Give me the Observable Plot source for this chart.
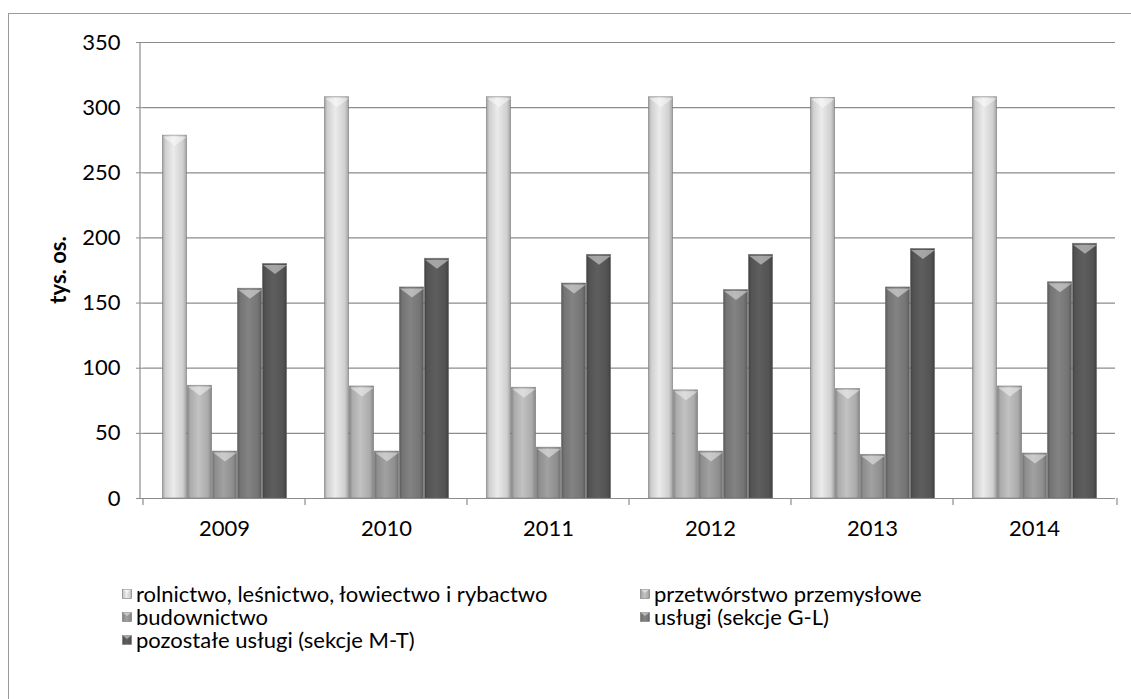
<!DOCTYPE html>
<html>
<head>
<meta charset="utf-8">
<script src="https://cdn.jsdelivr.net/npm/d3@7"></script>
<script src="https://cdn.jsdelivr.net/npm/@observablehq/plot@0.6"></script>
<style>
  html, body { margin: 0; padding: 0; background: #fff; }
  #wrap { position: relative; width: 1131px; height: 699px; overflow: hidden; font-family: Lato, "Noto Sans", sans-serif; }
  #border { position: absolute; left: 8px; top: 13px; width: 1140px; height: 700px; border: 1px solid #9a9a9a; box-sizing: border-box; }
  #chart { position: absolute; left: 0; top: 0; }
  #ylabel { position: absolute; left: 58px; top: 270px; transform: translate(-50%, -50%) rotate(-90deg); font-weight: bold; font-size: 22px; line-height: 22px; white-space: nowrap; color: #000; }
  #legend { position: absolute; left: 122px; top: 582px; display: grid; grid-template-columns: 518px auto; grid-auto-rows: 23px; font-size: 22px; line-height: 23px; color: #000; }
  #legend .item { display: flex; align-items: center; white-space: nowrap; }
  #legend svg { margin-right: 4px; }
</style>
</head>
<body>
<div id="wrap">
  <div id="border"></div>
  <div id="chart"></div>
  <div id="ylabel">tys. os.</div>
  <div id="legend"></div>
</div>
<script>
// Pracujący według sekcji gospodarki, 2009–2014 (tys. osób)
const years = ["2009", "2010", "2011", "2012", "2013", "2014"];
const series = [
  "rolnictwo, leśnictwo, łowiectwo i rybactwo",
  "przetwórstwo przemysłowe",
  "budownictwo",
  "usługi (sekcje G-L)",
  "pozostałe usługi (sekcje M-T)"
];
const rolnictwo    = [278.5, 308, 308, 308, 307.5, 308];
const przetworstwo = [86.5, 86, 85, 83, 84, 86];
const budownictwo  = [36, 36, 39, 36, 33.5, 34.5];
const uslugiGL     = [161, 162, 165, 160, 162, 166];
const uslugiMT     = [180, 184, 187, 187, 191.5, 195.5];
const yTicks = [0, 50, 100, 150, 200, 250, 300, 350];

const seriesValues = [rolnictwo, przetworstwo, budownictwo, uslugiGL, uslugiMT];
const data = years.flatMap((year, i) =>
  series.map((s, j) => ({year, series: s, value: seriesValues[j][i]}))
);

// Grey shades of the five series, rendered as bevelled gradients
const baseColors = ["#cfcfcf", "#ababab", "#8e8e8e", "#747474", "#535353"];
const gradIds = baseColors.map((_, i) => `bevel${i}`);

const defsSvg = d3.select("body").append("svg")
  .attr("width", 0).attr("height", 0)
  .style("position", "absolute");
const defs = defsSvg.append("defs");
baseColors.forEach((c, i) => {
  const base = d3.color(c);
  const g = defs.append("linearGradient").attr("id", gradIds[i])
    .attr("x1", "0").attr("x2", "1").attr("y1", "0").attr("y2", "0");
  const stops = [
    [0, base.darker(0.7)],
    [0.12, base],
    [0.45, base.brighter(0.35)],
    [0.85, base],
    [1, base.darker(0.7)]
  ];
  stops.forEach(([o, col]) => g.append("stop").attr("offset", o).attr("stop-color", col.formatHex()));
});
const gradUrls = gradIds.map(id => `url(#${id})`);

// Bevelled top of each bar: a downward chevron spanning the bar width
const chevron = {
  draw(ctx) {
    ctx.moveTo(-12, 0);
    ctx.lineTo(12, 0);
    ctx.lineTo(0, 9);
    ctx.closePath();
  }
};

const gridColor = "#8c8c8c";
const font = "Lato, 'Noto Sans', sans-serif";

const plot = Plot.plot({
  width: 1131,
  height: 560,
  marginLeft: 140,
  marginRight: 14,
  marginTop: 42,
  marginBottom: 62,
  style: {fontFamily: font, fontSize: "22px", color: "#000", background: "transparent", overflow: "visible"},
  fx: {domain: years, padding: 0, label: null},
  x: {domain: series, axis: null, paddingInner: 0, paddingOuter: 0.7},
  y: {domain: [0, 350], ticks: yTicks, label: null},
  color: {domain: series, range: gradUrls},
  marks: [
    Plot.ruleY(yTicks.filter(d => d > 0), {stroke: gridColor, strokeWidth: 1.2}),
    Plot.barY(data, {
      fx: "year", x: "series", y: "value", fill: "series",
      stroke: "#6a6a6a", strokeOpacity: 0.6, strokeWidth: 0.8,
      insetLeft: 0.4, insetRight: 0.4
    }),
    Plot.dot(data, {
      fx: "year", x: "series", y: "value",
      symbol: chevron, r: 5, fill: "#ffffff", fillOpacity: 0.45, stroke: "none", dy: 1
    }),
    Plot.ruleY([0], {stroke: gridColor, strokeWidth: 1.2}),
    Plot.axisY({ticks: yTicks, tickSize: 7, tickPadding: 16, stroke: gridColor, label: null, fontSize: 22}),
    Plot.axisFx({anchor: "bottom", tickSize: 0, tickPadding: 22, label: null, fontSize: 22})
  ]
});

document.getElementById("chart").appendChild(plot);

// Axis line on the left and category separators along the bottom axis
const fx = plot.scale("fx");
const y = plot.scale("y");
const svg = d3.select(plot);
const axes = svg.append("g").attr("stroke", gridColor).attr("stroke-width", 1.2);
const left = fx.range[0], right = fx.range[1];
axes.append("line")
  .attr("x1", left).attr("x2", left)
  .attr("y1", y.apply(0)).attr("y2", y.apply(350));
const bounds = years.map(yr => fx.apply(yr)).concat([right]);
bounds.forEach(bx => {
  axes.append("line")
    .attr("x1", bx).attr("x2", bx)
    .attr("y1", y.apply(0)).attr("y2", y.apply(0) + 7);
});

// Legend in two columns, filled row by row
const legend = d3.select("#legend");
series.forEach((s, i) => {
  const item = legend.append("div").attr("class", "item");
  const sw = item.append("svg").attr("width", 10).attr("height", 10);
  sw.append("rect").attr("x", 0.5).attr("y", 0.5).attr("width", 9).attr("height", 9)
    .attr("fill", gradUrls[i]).attr("stroke", "#777").attr("stroke-width", 0.6);
  sw.append("path").attr("d", "M0.5,0.5 L9.5,0.5 L5,4 Z").attr("fill", "#fff").attr("fill-opacity", 0.45);
  item.append("span").text(s);
});
</script>
</body>
</html>
